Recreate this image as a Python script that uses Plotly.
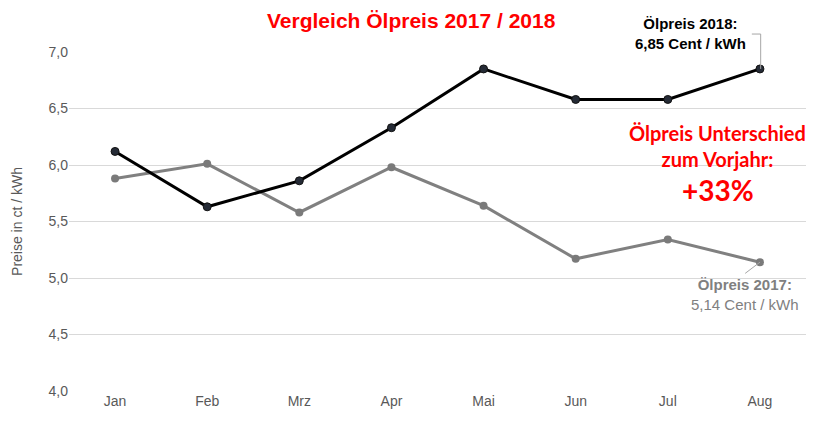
import plotly.graph_objects as go

months = ["Jan", "Feb", "Mrz", "Apr", "Mai", "Jun", "Jul", "Aug"]
preis_2018 = [6.12, 5.63, 5.86, 6.33, 6.85, 6.58, 6.58, 6.85]
preis_2017 = [5.88, 6.01, 5.58, 5.98, 5.64, 5.17, 5.34, 5.14]
y_ticks = [4.0, 4.5, 5.0, 5.5, 6.0, 6.5, 7.0]
y_ticktext = ["4,0", "4,5", "5,0", "5,5", "6,0", "6,5", "7,0"]

fig = go.Figure()
fig.add_trace(go.Scatter(
    x=months, y=preis_2017, mode="lines+markers", name="2017",
    line=dict(color="#808080", width=3),
    marker=dict(color="#7a7a7a", size=8),
))
fig.add_trace(go.Scatter(
    x=months, y=preis_2018, mode="lines+markers", name="2018",
    line=dict(color="#000000", width=3),
    marker=dict(color="#252b36", size=8, line=dict(color="#111111", width=1)),
))

n = len(months)
def xp(i):
    return (i + 0.5) / n

ymin, ymax = 4.0, 7.0
def yp(v):
    return (v - ymin) / (ymax - ymin)

last = n - 1
# leader line for 2018 label (bracket)
fig.add_shape(type="path", xref="paper", yref="paper",
              path=f"M {xp(last)-0.011} {1.053} L {xp(last)+0.001} {1.053} L {xp(last)+0.001} {yp(preis_2018[last])}",
              line=dict(color="#a6a6a6", width=1))
# leader line for 2017 label
fig.add_shape(type="line", xref="paper", yref="paper",
              x0=xp(last), y0=yp(preis_2017[last]), x1=xp(last) - 0.02, y1=yp(preis_2017[last]) - 0.033,
              line=dict(color="#a6a6a6", width=1))
# white box behind the difference text (hides the gridline there)
fig.add_shape(type="rect", xref="paper", yref="paper", layer="between",
              x0=0.741, x1=1.01, y0=0.53, y1=0.81,
              fillcolor="#ffffff", line=dict(width=0))

fig.add_annotation(xref="paper", yref="paper", x=0.465, y=1.094, xanchor="center", yanchor="middle",
                   text="<b>Vergleich Ölpreis 2017 / 2018</b>", showarrow=False,
                   font=dict(family="Liberation Sans, Arial", size=21, color="#ff0000"))
fig.add_annotation(xref="paper", yref="paper", x=0.843, y=1.056, xanchor="center", yanchor="middle",
                   text="<b>Ölpreis 2018:<br>6,85 Cent / kWh</b>", showarrow=False,
                   font=dict(family="Liberation Sans, Arial", size=15, color="#000000"))
fig.add_annotation(xref="paper", yref="paper", x=0.917, y=0.286, xanchor="center", yanchor="middle",
                   text="<b>Ölpreis 2017:</b><br>5,14 Cent / kWh", showarrow=False,
                   font=dict(family="Liberation Sans, Arial", size=15, color="#808080"))
fig.add_annotation(xref="paper", yref="paper", x=0.88, y=0.723, xanchor="center", yanchor="middle",
                   text="<b>Ölpreis Unterschied<br>zum Vorjahr:</b>",
                   showarrow=False,
                   font=dict(family="Lato, Open Sans", size=20, color="#ff0000"))
fig.add_annotation(xref="paper", yref="paper", x=0.88, y=0.593, xanchor="center", yanchor="middle",
                   text="<b>+33%</b>",
                   showarrow=False,
                   font=dict(family="Lato, Open Sans", size=28, color="#ff0000"))

fig.update_layout(
    width=821, height=423,
    margin=dict(l=69, r=15, t=52, b=32),
    paper_bgcolor="#ffffff", plot_bgcolor="#ffffff",
    showlegend=False,
    font=dict(family="Liberation Sans, Arial", size=14, color="#595959"),
    xaxis=dict(type="category", range=[-0.5, n - 0.5], showgrid=False, showline=False,
               ticks="", tickfont=dict(size=14, color="#595959")),
    yaxis=dict(range=[ymin, ymax], tickvals=y_ticks, ticktext=y_ticktext,
               showgrid=True, gridcolor="#d9d9d9", gridwidth=1, zeroline=False,
               showline=False, ticks="", ticklen=8, tickcolor="#ffffff",
               tickfont=dict(size=14, color="#595959"),
               title=dict(text="Preise in ct / kWh", font=dict(size=14, color="#595959"), standoff=22)),
)

fig.write_html("out.html")
